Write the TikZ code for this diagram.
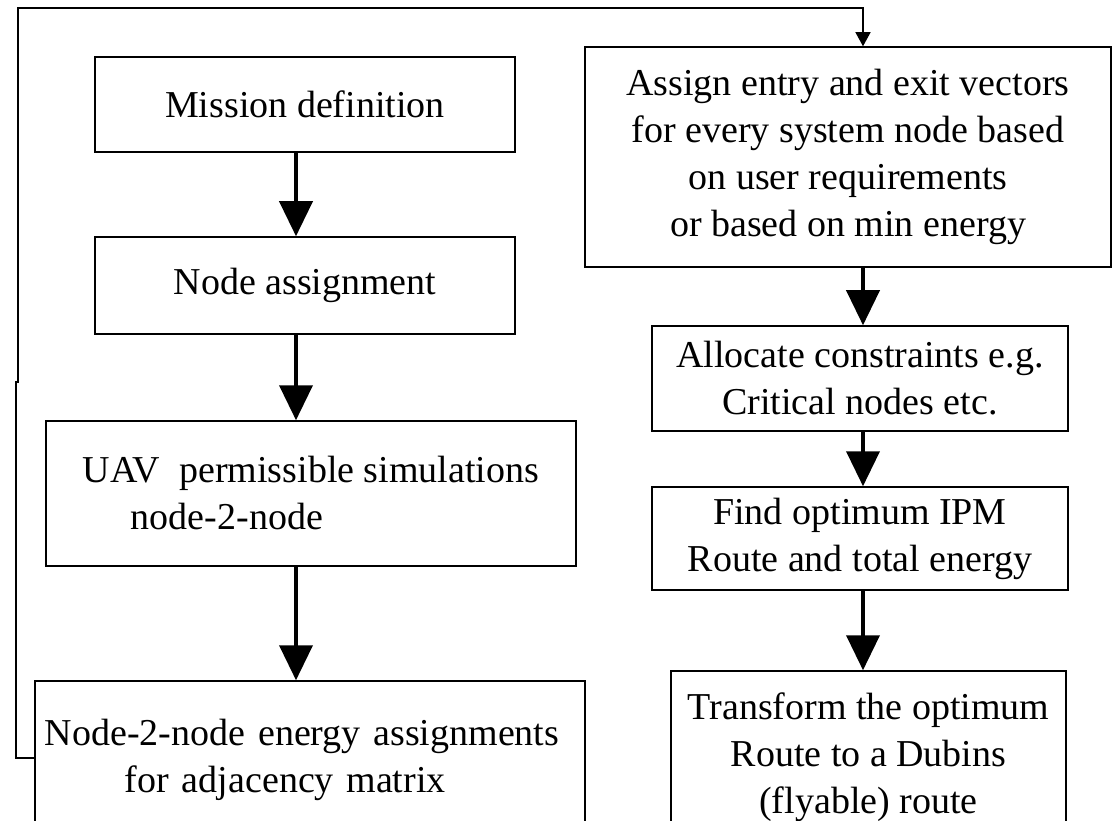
\documentclass[tikz,border=0pt]{standalone}
\usepackage{fontspec}
\setmainfont{Liberation Serif}
\usetikzlibrary{arrows.meta,calc}
\begin{document}
\begin{tikzpicture}[x=1pt,y=-1pt,
  box/.style={draw=black,line width=1.5pt,inner sep=0pt,font=\fontsize{38}{47}\selectfont,align=center},
  flow/.style={line width=3.8pt,-{Triangle[width=33pt,length=35pt]}},
  fb/.style={line width=1.3pt,-{Triangle[width=15pt,length=14pt]}}]
\useasboundingbox (0,0) rectangle (1112,821);
\clip (0,0) rectangle (1112,821);
\fill[white] (0,0) rectangle (1112,821);

% left column
\node[box,minimum width=420pt,minimum height=95pt] (mission) at (305,104.5) {Mission definition};
\node[box,minimum width=420pt,minimum height=97pt] (nodeassign) at (305,285.5) {Node assignment};
\node[box,minimum width=530pt,minimum height=145pt,align=left] (uav) at (311,493.5) {UAV\ \ permissible simulations\\\hspace*{48pt}node-2-node};
\node[box,align=left,text width=530pt,inner xsep=10pt,minimum height=158pt] (n2n) at (310,760) {Node-2-node energy assignments\\\hspace*{80pt}for adjacency matrix};

% right column
\node[box,minimum width=526pt,minimum height=220pt] (assign) at (848,157) {Assign entry and exit vectors\\for every system node based\\on user requirements\\or based on min energy};
\node[box,minimum width=416pt,minimum height=105pt] (alloc) at (860,378.5) {Allocate constraints e.g.\\Critical nodes etc.};
\node[box,minimum width=416pt,minimum height=103pt] (find) at (860,538.5) {Find optimum IPM\\Route and total energy};
\node[box,minimum width=395pt,minimum height=172pt] (transform) at (868.5,757) {Transform the optimum\\Route to a Dubins\\(flyable) route};

\coordinate (xl) at (296,0);
\coordinate (xr) at (863,0);

\draw[flow] (mission.south -| xl) -- (nodeassign.north -| xl);
\draw[flow] (nodeassign.south -| xl) -- (uav.north -| xl);
\draw[flow] (uav.south -| xl) -- (n2n.north -| xl);
\draw[flow] (assign.south -| xr) -- (alloc.north -| xr);
\draw[flow] (alloc.south -| xr) -- (find.north -| xr);
\draw[flow] (find.south -| xr) -- (transform.north -| xr);

% feedback loop
\coordinate (c1) at (16,758);
\coordinate (c2) at (16,382);
\coordinate (c3) at (18,382);
\coordinate (c4) at (18,8);
\coordinate (c5) at (863,8);
\draw[fb] (n2n.west |- c1) -- (c1) -- (c2) -- (c3) -- (c4) -- (c5) -- (assign.north -| xr);
\end{tikzpicture}
\end{document}
